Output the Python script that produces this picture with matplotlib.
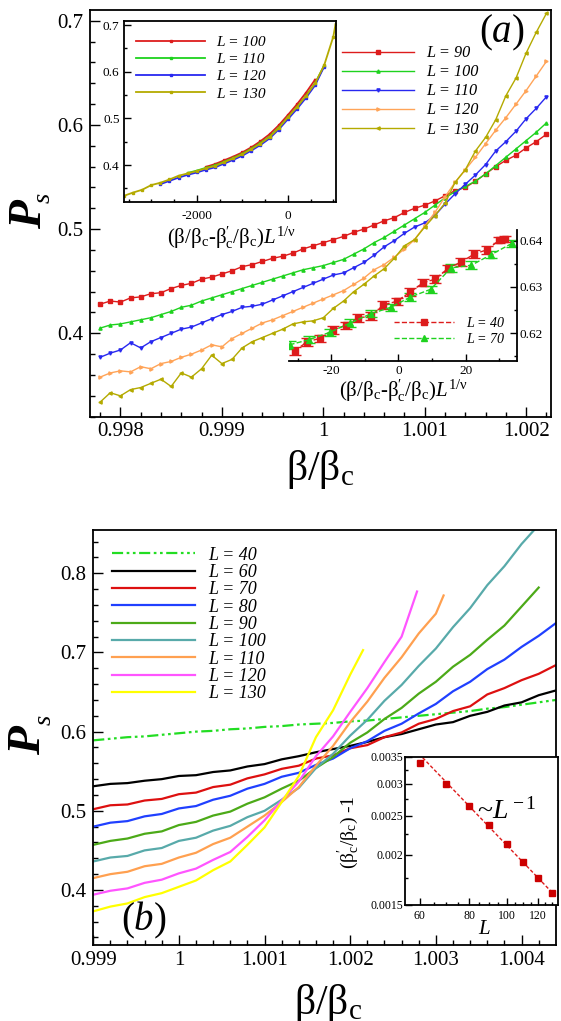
import matplotlib
matplotlib.use("Agg")
import matplotlib.pyplot as plt
from matplotlib.ticker import MultipleLocator, FixedLocator, FixedFormatter, NullFormatter

plt.rcParams['font.family'] = 'Liberation Serif'
plt.rcParams['mathtext.fontset'] = 'custom'
plt.rcParams['mathtext.rm'] = 'Liberation Serif'
plt.rcParams['mathtext.it'] = 'Liberation Serif:italic'
plt.rcParams['mathtext.bf'] = 'Liberation Serif:italic:bold'
plt.rcParams['axes.unicode_minus'] = False

# ---------------- panel (a): P_s vs beta/beta_c ----------------
beta_a = [0.9978, 0.9979, 0.9980, 0.9981, 0.9982, 0.9983, 0.9984, 0.9985, 0.9986, 0.9987,
          0.9988, 0.9989, 0.9990, 0.9991, 0.9992, 0.9993, 0.9994, 0.9995, 0.9996, 0.9997,
          0.9998, 0.9999, 1.0000, 1.0001, 1.0002, 1.0003, 1.0004, 1.0005, 1.0006, 1.0007,
          1.0008, 1.0009, 1.0010, 1.0011, 1.0012, 1.0013, 1.0014, 1.0015, 1.0016, 1.0017,
          1.0018, 1.0019, 1.0020, 1.0021, 1.0022]
ps_a_90 = [0.428, 0.431, 0.430, 0.434, 0.435, 0.438, 0.439, 0.443, 0.446, 0.448,
           0.452, 0.454, 0.457, 0.460, 0.464, 0.466, 0.469, 0.472, 0.474, 0.477,
           0.481, 0.484, 0.487, 0.490, 0.493, 0.497, 0.500, 0.504, 0.508, 0.511,
           0.516, 0.520, 0.523, 0.527, 0.532, 0.537, 0.540, 0.546, 0.553, 0.560,
           0.566, 0.571, 0.578, 0.584, 0.591]
ps_a_100 = [0.405, 0.408, 0.409, 0.411, 0.413, 0.415, 0.418, 0.421, 0.425, 0.427,
            0.431, 0.434, 0.437, 0.440, 0.443, 0.446, 0.449, 0.452, 0.455, 0.458,
            0.461, 0.463, 0.465, 0.468, 0.471, 0.476, 0.481, 0.487, 0.492, 0.498,
            0.504, 0.510, 0.516, 0.523, 0.530, 0.536, 0.541, 0.546, 0.553, 0.561,
            0.569, 0.577, 0.585, 0.593, 0.602]
ps_a_110 = [0.377, 0.381, 0.384, 0.391, 0.386, 0.392, 0.396, 0.400, 0.404, 0.406,
            0.410, 0.414, 0.418, 0.421, 0.425, 0.426, 0.428, 0.432, 0.436, 0.440,
            0.444, 0.448, 0.452, 0.456, 0.458, 0.463, 0.468, 0.475, 0.483, 0.489,
            0.496, 0.502, 0.506, 0.513, 0.524, 0.534, 0.543, 0.552, 0.562, 0.575,
            0.584, 0.594, 0.606, 0.616, 0.627]
ps_a_120 = [0.358, 0.362, 0.364, 0.363, 0.368, 0.366, 0.371, 0.373, 0.377, 0.380,
            0.384, 0.389, 0.387, 0.395, 0.400, 0.405, 0.410, 0.413, 0.417, 0.421,
            0.425, 0.429, 0.433, 0.437, 0.441, 0.447, 0.453, 0.461, 0.466, 0.473,
            0.481, 0.490, 0.503, 0.516, 0.531, 0.545, 0.557, 0.569, 0.582, 0.595,
            0.607, 0.620, 0.633, 0.647, 0.661]
ps_a_130 = [0.334, 0.343, 0.340, 0.346, 0.348, 0.352, 0.356, 0.349, 0.362, 0.358,
            0.366, 0.379, 0.371, 0.375, 0.386, 0.392, 0.396, 0.400, 0.404, 0.409,
            0.411, 0.412, 0.415, 0.424, 0.431, 0.440, 0.447, 0.455, 0.462, 0.472,
            0.484, 0.490, 0.502, 0.513, 0.525, 0.545, 0.557, 0.575, 0.588, 0.605,
            0.628, 0.645, 0.669, 0.689, 0.707]

# inset 1: data collapse
sx_100 = [-1800, -1600, -1400, -1200, -1000, -800, -600, -400, -200, 0, 200, 400, 600]
sy_100 = [0.396, 0.402, 0.410, 0.418, 0.427, 0.438, 0.451, 0.466, 0.485, 0.507, 0.530, 0.555, 0.583]
sx_110 = [-2200, -2000, -1800, -1600, -1400, -1200, -1000, -800, -600, -400, -200, 0, 200, 400, 600, 800]
sy_110 = [0.383, 0.388, 0.394, 0.399, 0.407, 0.415, 0.424, 0.435, 0.447, 0.461, 0.480, 0.502, 0.524,
          0.548, 0.575, 0.613]
sx_120 = [-2800, -2600, -2400, -2200, -2000, -1800, -1600, -1400, -1200, -1000, -800, -600, -400,
          -200, 0, 200, 400, 600, 800]
sy_120 = [0.359, 0.366, 0.373, 0.379, 0.384, 0.390, 0.395, 0.403, 0.411, 0.420, 0.431, 0.443, 0.457,
          0.476, 0.498, 0.520, 0.544, 0.571, 0.611]
sx_130 = [-3600, -3400, -3200, -3000, -2800, -2600, -2400, -2200, -2000, -1800, -1600, -1400, -1200,
          -1000, -800, -600, -400, -200, 0, 200, 400, 600, 800, 1000, 1050]
sy_130 = [0.334, 0.341, 0.347, 0.357, 0.362, 0.369, 0.377, 0.382, 0.387, 0.393, 0.398, 0.406, 0.414,
          0.423, 0.434, 0.446, 0.460, 0.479, 0.502, 0.524, 0.548, 0.575, 0.614, 0.675, 0.702]

# inset 2: small sizes with error bars
ex_40 = [-30.9, -27.2, -23.4, -19.5, -15.7, -11.9, -8.2, -4.5, -0.5, 3.5, 7.3, 11.0, 14.7, 18.7,
         22.5, 26.2, 30.0, 31.6]
ey_40 = [0.6162, 0.6181, 0.6189, 0.6207, 0.6217, 0.6233, 0.6237, 0.6261, 0.6269, 0.6289, 0.6309,
         0.6317, 0.6340, 0.6354, 0.6371, 0.6380, 0.6401, 0.6403]
ee_40 = [0.0009, 0.0008, 0.0008, 0.0008, 0.0008, 0.0008, 0.0008, 0.0008, 0.0008, 0.0008, 0.0008,
         0.0008, 0.0008, 0.0008, 0.0008, 0.0008, 0.0007, 0.0007]
ex_70 = [-32.4, -26.6, -20.4, -14.4, -8.2, -2.3, 3.5, 9.6, 15.6, 21.7, 27.6, 33.7]
ey_70 = [0.6175, 0.6186, 0.6202, 0.6222, 0.6242, 0.6256, 0.6278, 0.6295, 0.6341, 0.6347, 0.6370, 0.6394]
ee_70 = [0.0008, 0.0008, 0.0008, 0.0008, 0.0008, 0.0008, 0.0008, 0.0008, 0.0008, 0.0008, 0.0008, 0.0007]

# ---------------- panel (b) ----------------
beta_b = [0.9990, 0.9992, 0.9994, 0.9996, 0.9998, 1.0000, 1.0002, 1.0004, 1.0006, 1.0008,
          1.0010, 1.0012, 1.0014, 1.0016, 1.0018, 1.0020, 1.0022, 1.0024, 1.0026, 1.0028,
          1.0030, 1.0032, 1.0034, 1.0036, 1.0038, 1.0040, 1.0042, 1.0044]
ps_b_40 = [0.589, 0.591, 0.593, 0.594, 0.596, 0.598, 0.600, 0.601, 0.603, 0.604, 0.606, 0.607, 0.609, 0.610,
           0.611, 0.613, 0.614, 0.616, 0.618, 0.620, 0.622, 0.624, 0.626, 0.629, 0.631, 0.634, 0.637, 0.640]
ps_b_60 = [0.531, 0.534, 0.535, 0.538, 0.540, 0.544, 0.545, 0.549, 0.551, 0.556, 0.559, 0.565, 0.569, 0.574,
           0.578, 0.582, 0.587, 0.593, 0.597, 0.603, 0.609, 0.612, 0.620, 0.625, 0.633, 0.637, 0.646, 0.652]
ps_b_70 = [0.502, 0.507, 0.508, 0.513, 0.515, 0.521, 0.523, 0.530, 0.533, 0.541, 0.546, 0.553, 0.557, 0.566,
           0.570, 0.579, 0.583, 0.593, 0.599, 0.610, 0.616, 0.626, 0.632, 0.647, 0.655, 0.665, 0.673, 0.684]
ps_b_80 = [0.480, 0.485, 0.487, 0.493, 0.496, 0.503, 0.506, 0.514, 0.519, 0.528, 0.534, 0.543, 0.548, 0.558,
           0.566, 0.579, 0.588, 0.601, 0.610, 0.623, 0.635, 0.651, 0.663, 0.679, 0.691, 0.707, 0.721, 0.737]
ps_b_90 = [0.457, 0.462, 0.465, 0.471, 0.474, 0.482, 0.486, 0.494, 0.499, 0.509, 0.517, 0.528, 0.538, 0.554,
           0.568, 0.586, 0.599, 0.616, 0.630, 0.648, 0.663, 0.682, 0.697, 0.716, 0.734, 0.758, 0.782]
ps_b_100 = [0.436, 0.441, 0.443, 0.450, 0.453, 0.462, 0.466, 0.475, 0.481, 0.492, 0.500, 0.514, 0.529, 0.554,
            0.572, 0.595, 0.615, 0.639, 0.659, 0.683, 0.705, 0.732, 0.756, 0.785, 0.809, 0.837, 0.861, 0.888]
ps_b_110 = [0.415, 0.420, 0.423, 0.430, 0.433, 0.441, 0.447, 0.458, 0.466, 0.480, 0.494, 0.511, 0.530, 0.557,
            0.582, 0.612, 0.638, 0.668, 0.694, 0.724, 0.749, 0.772]
ps_b_120 = [0.394, 0.399, 0.402, 0.409, 0.413, 0.421, 0.427, 0.438, 0.448, 0.467, 0.488, 0.513, 0.537, 0.569,
            0.594, 0.625, 0.655, 0.688, 0.720, 0.777]
ps_b_130 = [0.373, 0.379, 0.383, 0.391, 0.396, 0.404, 0.412, 0.425, 0.436, 0.457, 0.479, 0.511, 0.544, 0.593,
            0.627, 0.672, 0.703]
end_b_110 = 1.00309
end_b_120 = 1.00278
end_b_130 = 1.00215

# inset 3: shift of pseudo-critical point
sizes = [60, 70, 80, 90, 100, 110, 120, 130]
shift = [0.00338, 0.002995, 0.002639, 0.002366, 0.002121, 0.001923, 0.001754, 0.001609]
fit_L = [61, 131]
fit_shift = [0.00348, 0.00160]

W, H = 561, 1021


def box(l, t, r, b):
    return [l / W, 1 - b / H, (r - l) / W, (b - t) / H]


def style_ticks(ax, size, major=7, minor=3.5):
    ax.tick_params(which='both', direction='in', width=1, labelsize=size)
    ax.tick_params(which='major', length=major)
    ax.tick_params(which='minor', length=minor)
    for s in ax.spines.values():
        s.set_linewidth(1.3)


def ps_label(ax, px, py, sx, sy):
    # bold italic P with a small italic s subscript (rotated)
    ax.text(px, py, 'P', transform=ax.transAxes, rotation=90, fontsize=34, fontweight='bold',
            fontstyle='italic', ha='center', va='center')
    ax.text(sx, sy, 's', transform=ax.transAxes, rotation=90, fontsize=19,
            fontstyle='italic', ha='center', va='center')


fig = plt.figure(figsize=(5.61, 10.21), dpi=100)

# ===== panel (a) =====
ax1 = fig.add_axes(box(90.3, 10, 550.9, 416.7))
cols_a = ['#dd1c1c', '#1ed21e', '#2828f0', '#ffa458', '#b4aa00']
mk_a = ['s', '^', 'v', '>', '<']
labs_a = ['L = 90', 'L = 100', 'L = 110', 'L = 120', 'L = 130']
for ys, c, m, lab in zip([ps_a_90, ps_a_100, ps_a_110, ps_a_120, ps_a_130], cols_a, mk_a, labs_a):
    ax1.plot(beta_a, ys, color=c, marker=m, ms=2.3, lw=1.0, label=lab)
ax1.set_xlim(0.997703, 1.002244)
ax1.set_ylim(0.3200, 0.7103)
ax1.set_xticks([0.998, 0.999, 1.0, 1.001, 1.002], ['0.998', '0.999', '1', '1.001', '1.002'])
ax1.xaxis.set_minor_locator(MultipleLocator(0.0002))
ax1.set_yticks([0.4, 0.5, 0.6, 0.7], ['0.4', '0.5', '0.6', '0.7'])
ax1.yaxis.set_minor_locator(MultipleLocator(0.02))
style_ticks(ax1, 15)
ax1.tick_params(axis='x', pad=4)
ax1.tick_params(axis='y', pad=5)
ax1.set_xlabel(r'β/β$_{\rm c}$', fontsize=30)
ax1.xaxis.set_label_coords(0.5, -0.131)
ax1.xaxis.label.set_va('center')
ps_label(ax1, -0.131, 0.498, -0.1005, 0.538)
ax1.text(0.893, 0.943, r'($a$)', transform=ax1.transAxes, fontsize=28, ha='center', va='center')
ax1.legend(loc='upper left', bbox_to_anchor=(342.3 / W, 1 - 45.2 / H), bbox_transform=fig.transFigure,
           frameon=False, borderpad=0, borderaxespad=0, handlelength=4.4, handletextpad=0.75,
           labelspacing=0.19, prop=dict(family='Liberation Serif', style='italic', size=11.7))

# inset: data collapse
axi1 = fig.add_axes(box(123.7, 21, 335.8, 201.7))
cols_i = ['#dd1c1c', '#1ed21e', '#2828f0', '#b4aa00']
labs_i = ['L = 100', 'L = 110', 'L = 120', 'L = 130']
for xs, ys, c, lab in zip([sx_100, sx_110, sx_120, sx_130], [sy_100, sy_110, sy_120, sy_130], cols_i, labs_i):
    axi1.plot(xs, ys, color=c, marker='s', ms=2.0, lw=1.3, label=lab)
axi1.set_xlim(-3606, 1055)
axi1.set_ylim(0.3214, 0.7086)
axi1.set_xticks([-2000, 0], ['-2000', '0'])
axi1.xaxis.set_minor_locator(MultipleLocator(500))
axi1.set_yticks([0.4, 0.5, 0.6, 0.7], ['0.4', '0.5', '0.6', '0.7'])
axi1.yaxis.set_minor_locator(MultipleLocator(0.05))
style_ticks(axi1, 9.5, 5, 2.5)
axi1.tick_params(axis='x', pad=6)
axi1.tick_params(axis='y', pad=3)
axi1.set_xlabel(r'(β/β$_{\rm c}$-β$^{\prime}_{\rm c}$/β$_{\rm c}$)$L^{\rm 1/ν}$', fontsize=15)
axi1.xaxis.set_label_coords(0.509, -0.2)
axi1.xaxis.label.set_va('center')
axi1.legend(loc='upper left', bbox_to_anchor=(136.2 / W, 1 - 35.3 / H), bbox_transform=fig.transFigure,
            frameon=False, borderpad=0, borderaxespad=0, handlelength=4.45, handletextpad=0.73,
            labelspacing=0.22, prop=dict(family='Liberation Serif', style='italic', size=11.1))

# inset: L = 40, 70 with error bars
axi2 = fig.add_axes(box(288.5, 230, 517.2, 361))
axi2.set_facecolor('none')
axi2.errorbar(ex_40, ey_40, yerr=ee_40, fmt='none', ecolor='#dd1c1c', elinewidth=1, capsize=4)
axi2.errorbar(ex_70, ey_70, yerr=ee_70, fmt='none', ecolor='#1ed21e', elinewidth=1, capsize=4)
axi2.plot(ex_40, ey_40, color='#dd1c1c', ls='--', lw=1, marker='s', ms=4.5, label='L = 40')
axi2.plot(ex_70, ey_70, color='#1ed21e', ls='--', lw=1, marker='^', ms=5, label='L = 70')
axi2.set_xlim(-32.7, 35.3)
axi2.set_ylim(0.614, 0.6423)
axi2.spines['top'].set_visible(False)
axi2.spines['left'].set_visible(False)
axi2.yaxis.tick_right()
axi2.set_xticks([-20, 0, 20], ['-20', '0', '20'])
axi2.xaxis.set_minor_locator(MultipleLocator(10))
axi2.set_yticks([0.62, 0.63, 0.64], ['0.62', '0.63', '0.64'])
axi2.yaxis.set_minor_locator(MultipleLocator(0.005))
style_ticks(axi2, 9.5, 5, 2.5)
axi2.tick_params(axis='x', pad=3)
axi2.tick_params(axis='y', pad=2)
axi2.set_xlabel(r'(β/β$_{\rm c}$-β$^{\prime}_{\rm c}$/β$_{\rm c}$)$L^{\rm 1/ν}$', fontsize=15)
axi2.xaxis.set_label_coords(0.505, -0.225)
axi2.xaxis.label.set_va('center')
axi2.legend(loc='upper left', bbox_to_anchor=(394 / W, 1 - 317 / H), bbox_transform=fig.transFigure,
            frameon=False, borderpad=0, borderaxespad=0, handlelength=4.27, handletextpad=0.89,
            labelspacing=0.19, prop=dict(family='Liberation Serif', style='italic', size=10.1))

# ===== panel (b) =====
ax2 = fig.add_axes(box(93.2, 530, 555.6, 945))
ax2.plot(beta_b, ps_b_40, color='#22dd22', lw=1.6, ls=(0, (5, 1.6, 1.2, 1.6, 1.2, 1.6)), label='L = 40')
ax2.plot(beta_b, ps_b_60, color='black', lw=1.6, label='L = 60')
ax2.plot(beta_b, ps_b_70, color='#dd1010', lw=1.6, label='L = 70')
ax2.plot(beta_b, ps_b_80, color='#2040ff', lw=1.6, label='L = 80')
ax2.plot(beta_b[:len(ps_b_90)], ps_b_90, color='#4caa18', lw=1.6, label='L = 90')
ax2.plot(beta_b, ps_b_100, color='#58aaaa', lw=1.6, label='L = 100')
ax2.plot(beta_b[:len(ps_b_110) - 1] + [end_b_110], ps_b_110, color='#ffa050', lw=1.6, label='L = 110')
ax2.plot(beta_b[:len(ps_b_120) - 1] + [end_b_120], ps_b_120, color='#ff55ff', lw=1.6, label='L = 120')
ax2.plot(beta_b[:len(ps_b_130) - 1] + [end_b_130], ps_b_130, color='#ffff00', lw=1.6, label='L = 130')
ax2.set_xlim(0.999, 1.0043975)
ax2.set_ylim(0.3305, 0.8547)
ax2.set_xticks([0.999, 1.0, 1.001, 1.002, 1.003, 1.004], ['0.999', '1', '1.001', '1.002', '1.003', '1.004'])
ax2.xaxis.set_minor_locator(MultipleLocator(0.0002))
ax2.set_yticks([0.4, 0.5, 0.6, 0.7, 0.8], ['0.4', '0.5', '0.6', '0.7', '0.8'])
ax2.yaxis.set_minor_locator(MultipleLocator(0.02))
style_ticks(ax2, 15)
ax2.tick_params(axis='x', pad=4)
ax2.tick_params(axis='y', pad=5)
ax2.set_xlabel(r'β/β$_{\rm c}$', fontsize=30)
ax2.xaxis.set_label_coords(0.508, -0.142)
ax2.xaxis.label.set_va('center')
ps_label(ax2, -0.139, 0.4916, -0.104, 0.542)
ax2.text(0.1086, 0.06, r'($b$)', transform=ax2.transAxes, fontsize=28, ha='center', va='center')
ax2.legend(loc='upper left', bbox_to_anchor=(111.8 / W, 1 - 546.6 / H), bbox_transform=fig.transFigure,
           frameon=False, borderpad=0, borderaxespad=0, handlelength=4.62, handletextpad=0.7,
           labelspacing=0.02, prop=dict(family='Liberation Serif', style='italic', size=13))

# inset: shift vs L (log-log)
axi3 = fig.add_axes(box(405, 756.7, 558.4, 905))
axi3.plot(fit_L, fit_shift, color='#dd1c1c', ls=(0, (2.5, 1.5)), lw=1)
axi3.plot(sizes, shift, ls='none', marker='s', ms=4, color='#cc0000')
axi3.set_xscale('log')
axi3.set_yscale('log')
axi3.set_xlim(55, 135)
axi3.set_ylim(0.0015, 0.0035)
axi3.xaxis.set_major_locator(FixedLocator([60, 80, 100, 120]))
axi3.xaxis.set_major_formatter(FixedFormatter(['60', '80', '100', '120']))
axi3.xaxis.set_minor_locator(FixedLocator([65, 70, 75, 85, 90, 95, 105, 110, 115, 125, 130]))
axi3.xaxis.set_minor_formatter(NullFormatter())
axi3.yaxis.set_major_locator(FixedLocator([0.0015, 0.002, 0.0025, 0.003, 0.0035]))
axi3.yaxis.set_major_formatter(FixedFormatter(['0.0015', '0.002', '0.0025', '0.003', '0.0035']))
axi3.yaxis.set_minor_locator(FixedLocator([0.00175, 0.00225, 0.00275, 0.00325]))
axi3.yaxis.set_minor_formatter(NullFormatter())
style_ticks(axi3, 8.5, 5, 2.5)
axi3.tick_params(axis='x', pad=3.5)
axi3.tick_params(axis='y', pad=1.5)
axi3.set_xlabel(r'$L$', fontsize=15)
axi3.xaxis.set_label_coords(0.52, -0.162)
axi3.xaxis.label.set_va('center')
axi3.set_ylabel(r'(β$^{\prime}_{\rm c}$/β$_{\rm c}$) -1', fontsize=14)
axi3.yaxis.set_label_coords(-0.362, 0.494)
axi3.yaxis.label.set_va('center')
axi3.text(0.665, 0.634, r'~$L^{\rm -1}$', transform=axi3.transAxes, fontsize=20, ha='center', va='center')

fig.savefig('out.png', dpi=100)
